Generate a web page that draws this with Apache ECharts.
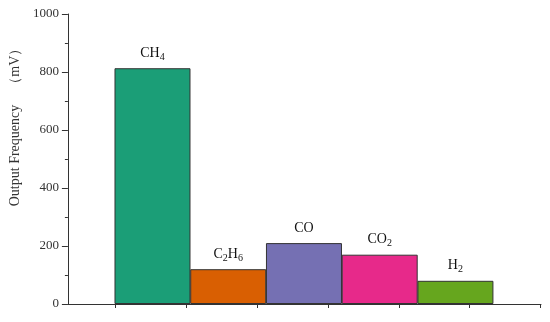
<!DOCTYPE html>
<html>
<head>
<meta charset="utf-8">
<script src="https://cdn.jsdelivr.net/npm/echarts@6/dist/echarts.min.js"></script>
<style>
  html, body { margin: 0; padding: 0; background: #fff; }
  #gasOutput { width: 550px; height: 322px; }
</style>
</head>
<body>
<div id="gasOutput"></div>
<script>
// 各气体输出 (mV)
var gasNames = ['{n|CH}{s|4}', '{n|C}{s|2}{n|H}{s|6}', '{n|CO}', '{n|CO}{s|2}', '{n|H}{s|2}'];
var outputValues = [813, 120, 210, 170, 80];
var barColors = ['#1b9e77', '#d95f02', '#7570b3', '#e7298a', '#66a61e'];
var yTicks = [0, 200, 400, 600, 800, 1000];
// x轴刻度位置（与柱子不对齐，照原图）
var xTickPos = [-0.491, 0.445, 1.380, 2.317, 3.253, 4.189, 5.126];

var chart = echarts.init(document.getElementById('gasOutput'));

var seriesData = [];
for (var i = 0; i < outputValues.length; i++) {
    seriesData.push({
        value: [i, outputValues[i]],
        itemStyle: { color: barColors[i] },
        label: { formatter: gasNames[i] }
    });
}

var option = {
    backgroundColor: '#fff',
    animation: false,
    grid: {
        left: 63.5,
        right: 9,
        top: 14,
        bottom: 18
    },
    xAxis: {
        type: 'value',
        min: -1.117,
        max: 5.13,
        axisLine: {
            show: true,
            onZero: false,
            lineStyle: { color: '#333', width: 1 }
        },
        axisTick: {
            show: true,
            length: 4,
            customValues: xTickPos,
            lineStyle: { color: '#333' }
        },
        axisLabel: { show: false },
        splitLine: { show: false }
    },
    yAxis: {
        type: 'value',
        min: yTicks[0],
        max: yTicks[yTicks.length - 1],
        interval: 200,
        name: 'Output Frequency\u3000（mV）',
        nameLocation: 'middle',
        nameGap: 40,
        nameTextStyle: {
            fontFamily: 'Liberation Serif',
            fontSize: 14,
            color: '#333',
            padding: [0, 0, 0, 70]
        },
        axisLine: {
            show: true,
            onZero: false,
            lineStyle: { color: '#333', width: 1 }
        },
        axisTick: {
            show: true,
            length: 6,
            lineStyle: { color: '#333' }
        },
        minorTick: {
            show: true,
            splitNumber: 2,
            length: 3,
            lineStyle: { color: '#333' }
        },
        axisLabel: {
            margin: 9,
            fontFamily: 'Liberation Serif',
            fontSize: 13,
            color: '#333',
            formatter: function (v) { return String(v); }
        },
        splitLine: { show: false }
    },
    series: [{
        type: 'bar',
        barWidth: 76,
        data: seriesData,
        itemStyle: {
            borderColor: '#333',
            borderWidth: 1
        },
        label: {
            show: true,
            position: 'top',
            distance: 6,
            rich: {
                n: {
                    fontFamily: 'Liberation Serif',
                    fontSize: 14,
                    color: '#111',
                    lineHeight: 18
                },
                s: {
                    fontFamily: 'Liberation Serif',
                    fontSize: 10,
                    color: '#111',
                    lineHeight: 10,
                    verticalAlign: 'bottom'
                }
            }
        }
    }]
};

chart.setOption(option);
</script>
</body>
</html>
